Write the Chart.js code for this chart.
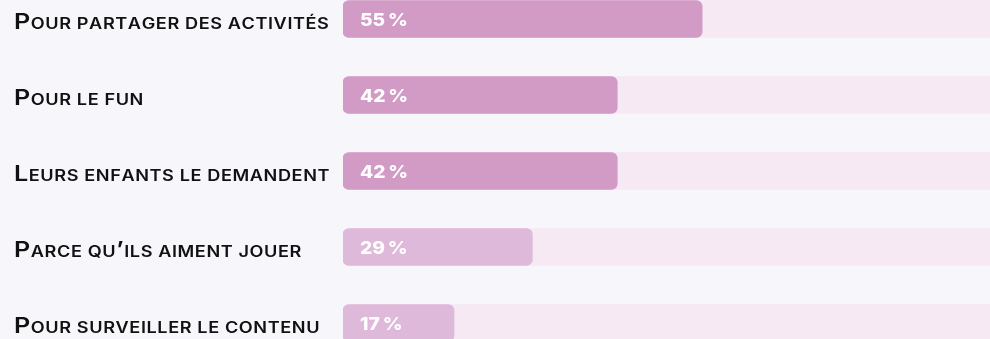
<!DOCTYPE html>
<html>
<head>
<meta charset="utf-8">
<script src="https://cdn.jsdelivr.net/npm/chart.js@4/dist/chart.umd.min.js"></script>
<style>
    html, body { margin: 0; padding: 0; background: #f7f6fb; overflow: hidden; }
    #wrap { position: relative; width: 996px; height: 380px; margin-top: -19px; }
</style>
</head>
<body>
<div id="wrap"><canvas id="reasonsChart"></canvas></div>
<script>
const reasons = [
    'Pour partager des activités',
    'Pour le fun',
    'Leurs enfants le demandent',
    "Parce qu’ils aiment jouer",
    'Pour surveiller le contenu'
];
const shares = [55, 42, 42, 29, 17];
const track = [100, 100, 100, 100, 100];
const barColors = ['#d29bc6', '#d29bc6', '#d29bc6', '#dfb9da', '#dfb9da'];

// small caps drawn letter by letter, a bit wider than the stock face
function drawSmallCaps(ctx, text, x, y, stretch) {
    ctx.save();
    ctx.scale(stretch, 1);
    let cx = x / stretch;
    for (const ch of text) {
        const big = ch !== ch.toLowerCase() || ch === '’';
        ctx.font = big ? '600 21.5px Inter' : '600 15.5px Inter';
        const t = big ? ch : ch.toUpperCase();
        ctx.fillText(t, cx, y);
        cx += ctx.measureText(t).width + 0.5;
    }
    ctx.restore();
}

const labelsPlugin = {
    id: 'labels',
    afterDatasetsDraw(chart) {
        const ctx = chart.ctx;
        const meta = chart.getDatasetMeta(1);
        ctx.save();
        ctx.textBaseline = 'alphabetic';
        meta.data.forEach(function(bar, i) {
            ctx.fillStyle = '#111111';
            drawSmallCaps(ctx, reasons[i], 14, bar.y + 10, 1.17);

            // value text inside the bar
            ctx.save();
            ctx.fillStyle = '#ffffff';
            ctx.font = '800 17.5px Inter';
            ctx.scale(1.1, 1);
            ctx.fillText(shares[i] + '\u2009%', (chart.chartArea.left + 17) / 1.1, bar.y + 7);
            ctx.restore();
        });
        ctx.restore();
    }
};

const config = {
    type: 'bar',
    data: {
        labels: reasons,
        datasets: [{
            data: track,
            backgroundColor: '#f6e9f4',
            borderRadius: 6,
            borderSkipped: false,
            grouped: false,
            order: 2,
            barThickness: 37,
        }, {
            data: shares,
            backgroundColor: barColors,
            borderRadius: 6,
            borderSkipped: false,
            grouped: false,
            order: 1,
            barThickness: 37,
        }],
    },
    options: {
        indexAxis: 'y',
        responsive: true,
        maintainAspectRatio: false,
        animation: false,
        layout: {
            padding: { left: 343, right: 0, top: 0, bottom: 0 }
        },
        scales: {
            x: { display: false, min: 0, max: 100 },
            y: { display: false }
        },
        plugins: {
            legend: { display: false },
            tooltip: { enabled: false }
        }
    },
    plugins: [labelsPlugin]
};
new Chart(document.getElementById('reasonsChart'), config);
</script>
</body>
</html>
